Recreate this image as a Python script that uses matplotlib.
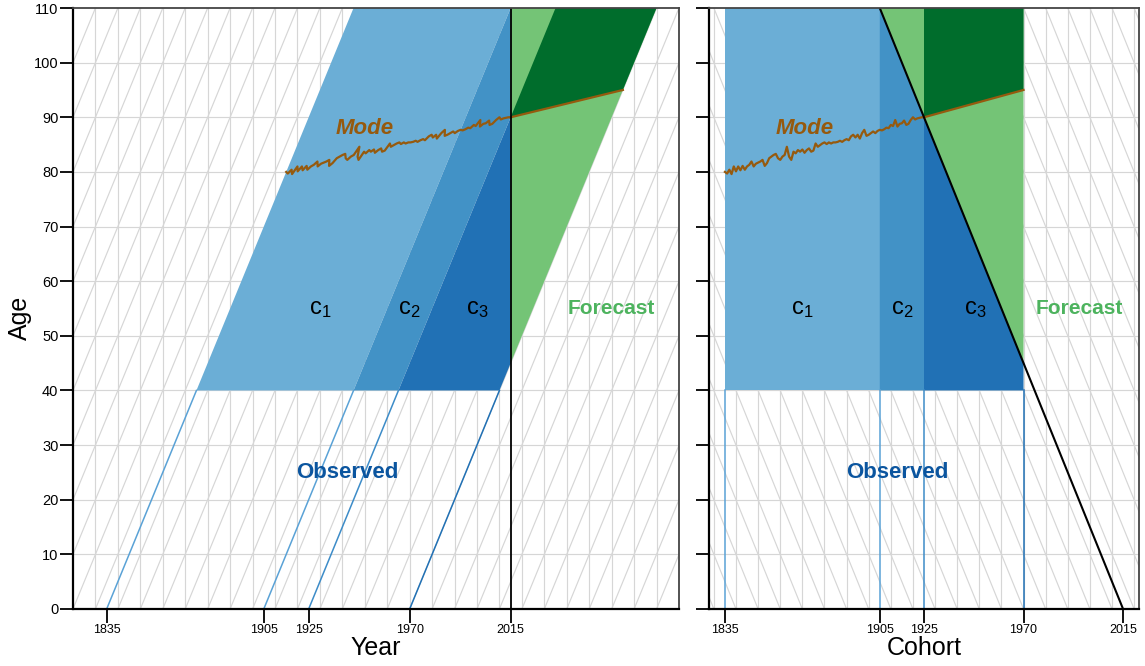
import numpy as np
import matplotlib
matplotlib.use('Agg')
import matplotlib.pyplot as plt
from matplotlib.patches import Polygon

plt.rcParams['font.family'] = ['Liberation Sans', 'DejaVu Sans']

# ---- data ----
now = 2015
age_min, age_max = 40, 110
cohort_breaks = [1835, 1905, 1925, 1970]
x_ticks = [1835, 1905, 1925, 1970, 2015]

# observed modal age at death by cohort
mode_cohorts = np.arange(1835, 1926)
mode_obs = [80.0, 79.7, 80.4, 79.6, 81.0, 80.1, 81.0, 80.3, 81.1, 80.4,
            81.0, 81.3, 81.9, 81.0, 81.5, 81.7, 81.9, 82.2, 81.1, 81.6,
            82.5, 82.8, 83.1, 83.3, 82.5, 82.2, 82.8, 83.1, 84.6, 82.8,
            82.2, 83.7, 83.4, 84.0, 83.7, 84.1, 83.5, 84.0, 84.3, 83.7,
            83.9, 85.2, 84.6, 84.9, 85.2, 85.4, 85.1, 85.4, 85.2, 85.4,
            85.4, 85.5, 85.7, 85.5, 85.8, 86.0, 85.8, 86.5, 86.8, 86.3,
            86.8, 86.1, 87.1, 87.7, 86.6, 86.8, 87.1, 87.4, 87.1, 87.5,
            87.7, 87.6, 87.8, 88.1, 88.0, 88.6, 88.4, 89.5, 88.3, 88.8,
            88.9, 89.4, 88.6, 88.8, 89.5, 90.0, 89.6, 89.8, 89.9, 90.0,
            90.0]
# forecast mode (straight line)
fc_cohorts = [1925, 1970]
fc_mode = [90, 95]

blues = ['#6BAED6', '#4292C6', '#2171B5']
line_blues = ['#5AA2D6', '#5AA2D6', '#3D8CC8', '#2171B5']
lgreen, dgreen = '#74C476', '#006D2C'
mode_col = '#965A0E'
grid_col = '#D6D6D6'


def observed_block(c0, c1):
    # cohorts c0..c1, ages age_min..age_max, cut at the year 'now'
    pts = [(c0, age_min), (c1, age_min), (c1, min(age_max, now - c1))]
    ck = now - age_max
    if c0 < ck < c1:
        pts.append((ck, age_max))
    pts.append((c0, min(age_max, now - c0)))
    return pts


regions = []
for i in range(3):
    regions.append((observed_block(cohort_breaks[i], cohort_breaks[i + 1]), blues[i]))
light = [(c, now - c) for c in cohort_breaks[1:]] + [(cohort_breaks[-1], age_max)]
regions.append((light, lgreen))
dark = [(fc_cohorts[0], fc_mode[0]), (fc_cohorts[1], fc_mode[1]),
        (fc_cohorts[1], age_max), (fc_cohorts[0], age_max)]
regions.append((dark, dgreen))

W, H = 1145, 666
fig = plt.figure(figsize=(W / 100, H / 100), dpi=100)
axL = fig.add_axes([73 / W, 57 / H, 606 / W, 601 / H])
axR = fig.add_axes([709 / W, 57 / H, 430 / W, 601 / H])


def to_year(pts):
    return [(c + a, a) for c, a in pts]


# ---- left: year x age ----
ax = axL
ax.set_xlim(1820, 2090)
ax.set_ylim(0, 110)
for yv in range(10, 110, 10):
    ax.axhline(yv, color=grid_col, lw=0.85, zorder=1)
for xv in range(1830, 2090, 10):
    ax.axvline(xv, color=grid_col, lw=0.85, zorder=1)
for c in range(1700, 2090, 10):
    ax.plot([c, c + 110], [0, 110], color=grid_col, lw=0.85, zorder=1)
for pts, col in regions:
    ax.add_patch(Polygon(to_year(pts), closed=True, fc=col, ec='none', zorder=2))
for c, col in zip(cohort_breaks, line_blues):
    ax.plot([c, c + age_min], [0, age_min], color=col, lw=1.1, zorder=3)
ax.plot(mode_cohorts + np.array(mode_obs), mode_obs, color=mode_col, lw=1.6, zorder=4)
ax.plot(np.array(fc_cohorts) + np.array(fc_mode), fc_mode, color=mode_col, lw=1.6, zorder=4)
ax.axvline(now, color='black', lw=1.3, zorder=5)
ax.text(1950, 88, 'Mode', color=mode_col, fontsize=16, fontweight='bold',
        fontstyle='italic', ha='center', va='center', zorder=6)
ax.text(1942, 25, 'Observed', color='#0B559F', fontsize=16, fontweight='bold',
        ha='center', va='center', zorder=6)
ax.text(2060, 55, 'Forecast', color='#4DB35E', fontsize=15, fontweight='bold',
        ha='center', va='center', zorder=6)
for xv, lab in zip([1930, 1970, 2000], ['1', '2', '3']):
    ax.text(xv, 55, r'$\mathregular{c_%s}$' % lab, fontsize=17,
            ha='center', va='center', zorder=6)

# ---- right: cohort x age ----
ax = axR
ax.set_xlim(1827.8, 2022.2)
ax.set_ylim(0, 110)
for yv in range(10, 110, 10):
    ax.axhline(yv, color=grid_col, lw=0.85, zorder=1)
for xv in range(1830, 2030, 10):
    ax.axvline(xv, color=grid_col, lw=0.85, zorder=1)
for p in range(1830, 2150, 10):
    ax.plot([p, p - 110], [0, 110], color=grid_col, lw=0.85, zorder=1)
for pts, col in regions:
    ax.add_patch(Polygon(pts, closed=True, fc=col, ec='none', zorder=2))
for c, col in zip(cohort_breaks, line_blues):
    ax.plot([c, c], [0, age_min], color=col, lw=1.1, zorder=3)
ax.plot(mode_cohorts, mode_obs, color=mode_col, lw=1.6, zorder=4)
ax.plot(fc_cohorts, fc_mode, color=mode_col, lw=1.6, zorder=4)
ax.plot([now - age_max, now], [age_max, 0], color='black', lw=1.5, zorder=5)
ax.text(1871, 88, 'Mode', color=mode_col, fontsize=16, fontweight='bold',
        fontstyle='italic', ha='center', va='center', zorder=6)
ax.text(1913, 25, 'Observed', color='#0B559F', fontsize=16, fontweight='bold',
        ha='center', va='center', zorder=6)
ax.text(1995, 55, 'Forecast', color='#4DB35E', fontsize=15, fontweight='bold',
        ha='center', va='center', zorder=6)
for xv, lab in zip([1870, 1915, 1948], ['1', '2', '3']):
    ax.text(xv, 55, r'$\mathregular{c_%s}$' % lab, fontsize=17,
            ha='center', va='center', zorder=6)

for ax, lab in [(axL, 'Year'), (axR, 'Cohort')]:
    ax.set_xticks(x_ticks)
    ax.set_yticks(range(0, 120, 10))
    ax.tick_params(axis='x', length=10, width=1.3, labelsize=9, pad=1)
    ax.tick_params(axis='y', length=9.5, width=1.3, labelsize=10.5, pad=1)
    ax.set_xlabel(lab, fontsize=18, labelpad=0)
    for s in ['left', 'bottom']:
        ax.spines[s].set_color('black')
        ax.spines[s].set_linewidth(1.6)
    for s in ['top', 'right']:
        ax.spines[s].set_color('#444444')
        ax.spines[s].set_linewidth(1.3)
    for s in ax.spines.values():
        s.set_zorder(7)
axR.tick_params(axis='y', labelleft=False)
fig.text(20 / W, 1 - 318 / H, 'Age', rotation=90, fontsize=18, ha='center', va='center')

fig.savefig('out.png', dpi=100)
